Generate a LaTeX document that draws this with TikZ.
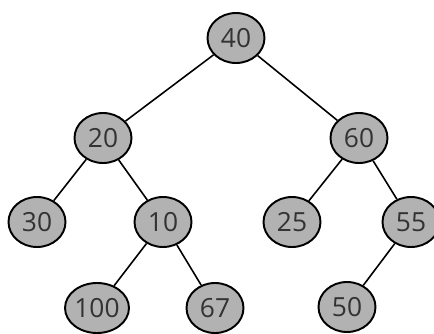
\documentclass[tikz,border=0pt]{standalone}
\usepackage{fontspec}
\setsansfont{Open Sans}
\usetikzlibrary{shapes.geometric}

\begin{document}
\begin{tikzpicture}[
  font=\sffamily\fontsize{15}{15}\selectfont,
  % Estilo de nodos del arbol
  treenode/.style={draw, ellipse, line width=1.1pt, fill=black!30, minimum width=1.14cm, minimum height=1.0cm, inner sep=0pt, text=black!80},
  % Estilo de aristas
  edge/.style={draw, line width=0.9pt}
]
  \useasboundingbox (0,0) rectangle (8.68,6.66);

  % ==========================================
  % NODOS
  % ==========================================
  \node[treenode] (n40) at (4.72, 5.90) {40};
  \node[treenode] (n20) at (2.06, 3.90) {20};
  \node[treenode] (n60) at (7.18, 3.90) {60};
  \node[treenode] (n30) at (0.74, 2.22) {30};
  \node[treenode] (n10) at (3.26, 2.22) {10};
  \node[treenode] (n25) at (5.84, 2.22) {25};
  \node[treenode] (n55) at (8.22, 2.22) {55};
  \node[treenode] (n100) at (1.94, 0.50) {100};
  \node[treenode] (n67) at (4.30, 0.50) {67};
  \node[treenode] (n50) at (6.94, 0.52) {50};

  % ==========================================
  % ARISTAS
  % ==========================================
  \draw[edge] (n40) -- (n20);
  \draw[edge] (n40) -- (n60);
  \draw[edge] (n20) -- (n30);
  \draw[edge] (n20) -- (n10);
  \draw[edge] (n10) -- (n100);
  \draw[edge] (n10) -- (n67);
  \draw[edge] (n60) -- (n25);
  \draw[edge] (n60) -- (n55);
  \draw[edge] (n55) -- (n50);

\end{tikzpicture}
\end{document}
